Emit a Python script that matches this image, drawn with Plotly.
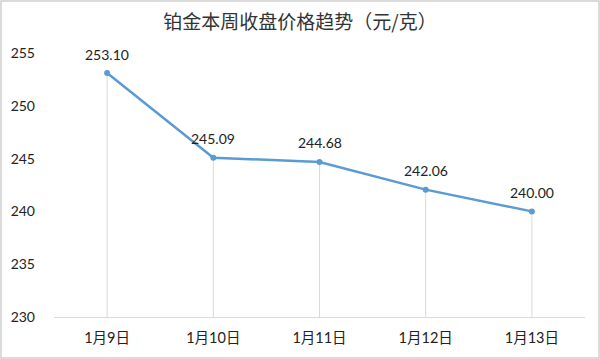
import plotly.graph_objects as go

categories = ["1月9日", "1月10日", "1月11日", "1月12日", "1月13日"]
prices = [253.10, 245.09, 244.68, 242.06, 240.00]
y_min = 230
y_max = 255
y_ticks = [230, 235, 240, 245, 250, 255]

font_family = "Lato, Noto Sans CJK SC, sans-serif"

fig = go.Figure()
fig.add_trace(go.Scatter(
    x=categories,
    y=prices,
    mode="lines+markers",
    line=dict(color="#5B9BD5", width=2.5),
    marker=dict(color="#5B9BD5", size=6),
    error_y=dict(
        type="data",
        symmetric=False,
        array=[0] * len(prices),
        arrayminus=[v - y_min for v in prices],
        color="#D9D9D9",
        thickness=1,
        width=0,
    ),
    cliponaxis=False,
    showlegend=False,
))

annotations = [
    dict(x=c, y=v, text=f"{v:.2f}", showarrow=False, yshift=19,
         font=dict(size=14, color="#222222", family=font_family))
    for c, v in zip(categories, prices)
]

fig.update_layout(
    width=600,
    height=359,
    margin=dict(l=54, r=15, t=53, b=42),
    paper_bgcolor="white",
    plot_bgcolor="white",
    font=dict(family=font_family, size=14, color="#222222"),
    title=dict(
        text="铂金本周收盘价格趋势（元/克）",
        x=0.5,
        xanchor="center",
        y=1 - 22 / 359,
        yanchor="middle",
        font=dict(size=19, color="#333333", family="Noto Sans CJK SC, sans-serif"),
    ),
    xaxis=dict(
        type="category",
        range=[-0.5, len(categories) - 0.5],
        showgrid=False,
        showline=True,
        linecolor="#D9D9D9",
        linewidth=1,
        ticks="",
        ticklabelstandoff=8,
        tickfont=dict(size=14.5),
    ),
    yaxis=dict(
        range=[y_min, y_max],
        tickvals=y_ticks,
        showgrid=False,
        zeroline=False,
        showline=False,
        ticks="",
        ticklabelstandoff=18,
        tickfont=dict(size=14),
    ),
    annotations=annotations,
    shapes=[dict(
        type="rect", xref="paper", yref="paper",
        x0=(-54 + 1) / 531, x1=(531 + 15 - 1) / 531,
        y0=(-42 + 1) / 264, y1=(264 + 53 - 1) / 264,
        line=dict(color="#D0D0D0", width=1.5),
        layer="below",
    )],
)

fig.write_html("out.html")
